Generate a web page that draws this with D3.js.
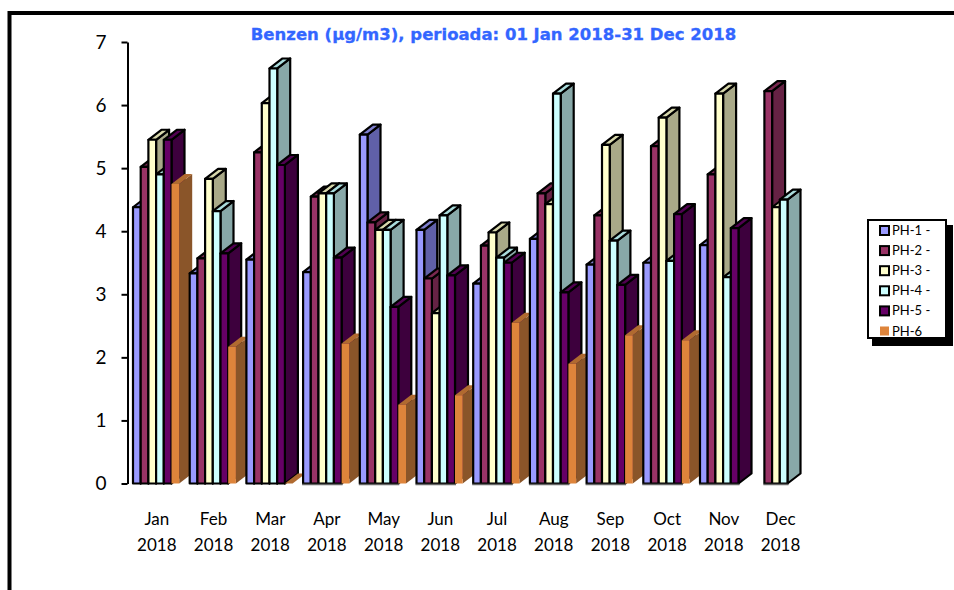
<!DOCTYPE html>
<html>
<head>
<meta charset="utf-8">
<script src="https://cdn.jsdelivr.net/npm/d3@7"></script>
<style>
  html, body { margin: 0; padding: 0; background: #fff; overflow: hidden; }
  svg { display: block; }
  text { font-family: Lato, "Liberation Sans", sans-serif; fill: #000; }
</style>
</head>
<body>
<div id="chart"></div>
<script>
const months = ['Jan', 'Feb', 'Mar', 'Apr', 'May', 'Jun', 'Jul', 'Aug', 'Sep', 'Oct', 'Nov', 'Dec'];
const seriesNames = ['PH-1', 'PH-2', 'PH-3', 'PH-4', 'PH-5', 'PH-6'];
const legendLabels = ['PH-1 -', 'PH-2 -', 'PH-3 -', 'PH-4 -', 'PH-5 -', 'PH-6'];
const yTicks = [0, 1, 2, 3, 4, 5, 6, 7];
const greyBaseMonths = ['Apr', 'May', 'Jun', 'Jul', 'Aug', 'Sep', 'Oct', 'Nov', 'Dec'];

const ph1 = [4.38, 3.33, 3.55, 3.35, 5.53, 4.02, 3.17, 3.88, 3.47, 3.50, 3.78, null];
const ph2 = [5.02, 3.57, 5.25, 4.55, 4.14, 3.25, 3.77, 4.60, 4.25, 5.35, 4.90, 6.22];
const ph3 = [5.45, 4.83, 6.03, 4.60, 4.02, 2.70, 3.98, 4.43, 5.37, 5.80, 6.18, 4.38];
const ph4 = [4.90, 4.32, 6.58, 4.60, 4.02, 4.25, 3.58, 6.18, 3.85, 3.53, 3.27, 4.50];
const ph5 = [5.45, 3.65, 5.05, 3.58, 2.80, 3.30, 3.50, 3.03, 3.15, 4.27, 4.05, null];
const ph6 = [4.75, 2.17, 0, 2.22, 1.25, 1.40, 2.55, 1.90, 2.35, 2.27, null, null];
const seriesValues = [ph1, ph2, ph3, ph4, ph5, ph6];

const frontColors = ['#9999ff', '#993366', '#ffffcc', '#ccffff', '#660066', '#de843b'];
const sideColors = ['#6060a8', '#662244', '#a9a988', '#88a8a8', '#3d003d', '#8a5529'];
const topColors = ['#8080d0', '#7a2850', '#d8d8ac', '#aadcdc', '#520052', '#b06a30'];
const strokeColors = ['#000', '#000', '#000', '#000', '#000', 'none'];

const width = 954;
const height = 590;
const depthX = 13;
const depthY = 10;

const svg = d3.select('#chart')
  .append('svg')
  .attr('width', width)
  .attr('height', height);

// outer frame, it runs off the right and bottom of the picture
svg.append('path')
  .attr('d', `M9.5,${height} V13 H${width}`)
  .attr('fill', 'none')
  .attr('stroke', '#000')
  .attr('stroke-width', 4);

svg.append('text')
  .attr('x', 493.5)
  .attr('y', 40)
  .attr('text-anchor', 'middle')
  .style('font-family', '"DejaVu Sans", sans-serif')
  .style('font-weight', 'bold')
  .style('font-size', '16.5px')
  .style('fill', '#3366ff')
  .style('stroke', '#3366ff')
  .style('stroke-width', '0.3px')
  .text('Benzen (µg/m3), perioada: 01 Jan 2018-31 Dec 2018');

const yScale = d3.scaleLinear().domain([0, 7]).range([483.5, 42]);
const xMonth = d3.scaleBand().domain(months).range([128, 808.4]);
const xSeries = d3.scaleBand().domain(seriesNames).range([5, 51.2]);

const yAxis = svg.append('g')
  .attr('transform', 'translate(127.5,0)')
  .call(d3.axisLeft(yScale).tickValues(yTicks).tickFormat(d3.format('d')).tickSize(6).tickSizeOuter(0).tickPadding(15));
yAxis.selectAll('.domain, line').attr('stroke', '#000').attr('stroke-width', 2);
yAxis.selectAll('text').style('font-size', '19px').attr('fill', '#000');

// one 3d bar: front face, side face, top face
function barFaces( month, series, value ) {
  const x0 = xMonth(month) + xSeries(series);
  const x1 = x0 + xSeries.bandwidth();
  const y0 = yScale(0);
  const y1 = yScale(value);
  return {
    front: `M${x0},${y0} V${y1} H${x1} V${y0} Z`,
    side: `M${x1},${y0} V${y1} l${depthX},${-depthY} V${y0 - depthY} Z`,
    top: `M${x0},${y1} l${depthX},${-depthY} H${x1 + depthX} L${x1},${y1} Z`
  };
}

const plot = svg.append('g');
months.forEach(( month, m ) => {
  const group = plot.append('g').attr('class', 'month');
  const bars = seriesNames
    .map(( name, s ) => ({ name, s, value: seriesValues[s][m] }))
    .filter(d => d.value !== null);

  const bar = group.selectAll('g').data(bars).join('g');
  bar.append('path')
    .attr('d', d => barFaces(month, d.name, d.value).side)
    .attr('fill', d => sideColors[d.s]);
  bar.append('path')
    .attr('d', d => barFaces(month, d.name, d.value).top)
    .attr('fill', d => topColors[d.s]);
  bar.append('path')
    .attr('d', d => barFaces(month, d.name, d.value).front)
    .attr('fill', d => frontColors[d.s]);
  bar.selectAll('path')
    .attr('stroke', d => strokeColors[d.s])
    .attr('stroke-width', 2.2)
    .attr('stroke-linejoin', 'round');

  // later months have a grey bottom edge under the bars with an outline
  if ( greyBaseMonths.includes(month) ) {
    const outlined = bars.filter(d => strokeColors[d.s] !== 'none');
    const first = outlined[0];
    const last = outlined[outlined.length - 1];
    group.append('line')
      .attr('x1', xMonth(month) + xSeries(first.name) - 1)
      .attr('x2', xMonth(month) + xSeries(last.name) + xSeries.bandwidth() + 1)
      .attr('y1', yScale(0) + 1)
      .attr('y2', yScale(0) + 1)
      .attr('stroke', '#666')
      .attr('stroke-width', 1.5);
  }
});

const xLabels = svg.append('g')
  .selectAll('text')
  .data(months)
  .join('text')
  .attr('text-anchor', 'middle')
  .style('font-size', '17px');
xLabels.append('tspan')
  .attr('x', d => xMonth(d) + xMonth.bandwidth() / 2 + 0.5)
  .attr('y', 525)
  .text(d => d);
xLabels.append('tspan')
  .attr('x', d => xMonth(d) + xMonth.bandwidth() / 2 + 0.5)
  .attr('y', 551)
  .text('2018');

// legend
const legend = svg.append('g');
legend.append('rect')
  .attr('x', 872).attr('y', 225)
  .attr('width', 81).attr('height', 121)
  .attr('fill', '#000');
legend.append('rect')
  .attr('x', 868).attr('y', 220)
  .attr('width', 78).attr('height', 118)
  .attr('fill', '#fff')
  .attr('stroke', '#000')
  .attr('stroke-width', 2);

const legendY = d3.scalePoint().domain(seriesNames).range([230.5, 331]);
const legendRow = legend.selectAll('g.row')
  .data(seriesNames)
  .join('g')
  .attr('class', 'row')
  .attr('transform', d => `translate(0,${legendY(d)})`);
legendRow.append('rect')
  .attr('x', 880).attr('y', -4.5)
  .attr('width', 9).attr('height', 9)
  .attr('fill', (d, i) => frontColors[i])
  .attr('stroke', (d, i) => strokeColors[i])
  .attr('stroke-width', 2);
legendRow.append('text')
  .attr('x', 892)
  .attr('y', 4.5)
  .style('font-size', '13px')
  .text((d, i) => legendLabels[i]);
</script>
</body>
</html>
